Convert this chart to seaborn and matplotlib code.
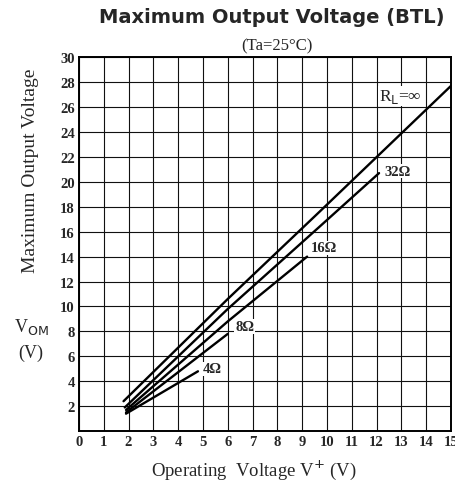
import numpy as np
import pandas as pd
import matplotlib
matplotlib.use("Agg")
import matplotlib.pyplot as plt
import seaborn as sns

# Points (operating voltage V+, output voltage Vom)
loads = ["inf", "32", "16", "8", "4"]
v_supply = {
    "inf": [1.8, 6.0, 9.7, 15.0],
    "32": [1.85, 6.0, 9.7, 12.1],
    "16": [1.9, 6.0, 9.2],
    "8": [1.9, 6.0],
    "4": [1.9, 4.8],
}
v_out = {
    "inf": [2.4, 10.6, 17.6, 27.7],
    "32": [1.9, 9.8, 16.4, 20.7],
    "16": [1.7, 8.8, 14.0],
    "8": [1.5, 7.8],
    "4": [1.4, 4.8],
}
curve_labels = {
    "inf": ("R$_{\\rm L}$=∞", 12.1, 26.9, "normal", 12.5),
    "32": ("32Ω", 12.3, 20.85, "bold", 10.5),
    "16": ("16Ω", 9.35, 14.7, "bold", 10.5),
    "8": ("8Ω", 6.3, 8.4, "bold", 10.5),
    "4": ("4Ω", 5.0, 5.0, "bold", 10.5),
}
x_ticks = list(range(0, 16))
y_ticks = list(range(2, 31, 2))

rows = []
for ld in loads:
    for vs, vo in zip(v_supply[ld], v_out[ld]):
        rows.append({"load": ld, "vs": vs, "vo": vo})
df = pd.DataFrame(rows)

sns.set_style("white")
plt.rcParams["font.family"] = ["Liberation Serif", "DejaVu Serif"]

fig = plt.figure(figsize=(4.56, 4.85), dpi=100)
ax = fig.add_axes([0.173, 0.109, 0.816, 0.771])

sns.lineplot(data=df, x="vs", y="vo", hue="load", hue_order=loads,
             palette=["black"] * len(loads), linewidth=1.7, legend=False,
             ax=ax, sort=False)

ax.set_xlim(0, 15)
ax.set_ylim(0, 30)
ax.set_xticks(x_ticks)
ax.set_yticks([0] + y_ticks)
ax.set_xticklabels([str(t) for t in x_ticks], fontweight="bold", fontsize=10.5)
ax.set_yticklabels([""] + [str(t) for t in y_ticks], fontweight="bold", fontsize=10.5)
ax.tick_params(axis="both", length=0, pad=3)
ax.grid(True, color="#111111", linewidth=0.8)
ax.set_axisbelow(True)
for side in ax.spines:
    ax.spines[side].set_color("black")
    ax.spines[side].set_linewidth(1.4)
ax.set_xlabel("")
ax.set_ylabel("")

for ld in loads:
    txt, lx, ly, wt, fs = curve_labels[ld]
    ax.text(lx, ly, txt, fontsize=fs, fontweight=wt, ha="left", va="center",
            bbox=dict(facecolor="white", edgecolor="none", pad=0.5))

fig.text(0.597, 0.963, "Maximum Output Voltage (BTL)", ha="center", va="center",
         fontsize=14, fontweight="bold", family=["DejaVu Sans"])
fig.text(0.607, 0.905, "(Ta=25°C)", ha="center", va="center", fontsize=12)
fig.text(0.066, 0.647, "Maximum Output Voltage", rotation=90, ha="center",
         va="center", fontsize=14)
fig.text(0.068, 0.326, "V$_{\\rm OM}$", ha="center", va="center", fontsize=13)
fig.text(0.068, 0.272, "(V)", ha="center", va="center", fontsize=13)
fig.text(0.556, 0.031, "Operating  Voltage V$^{+}$ (V)", ha="center", va="center",
         fontsize=13.5)

fig.savefig("out.png", dpi=100)
